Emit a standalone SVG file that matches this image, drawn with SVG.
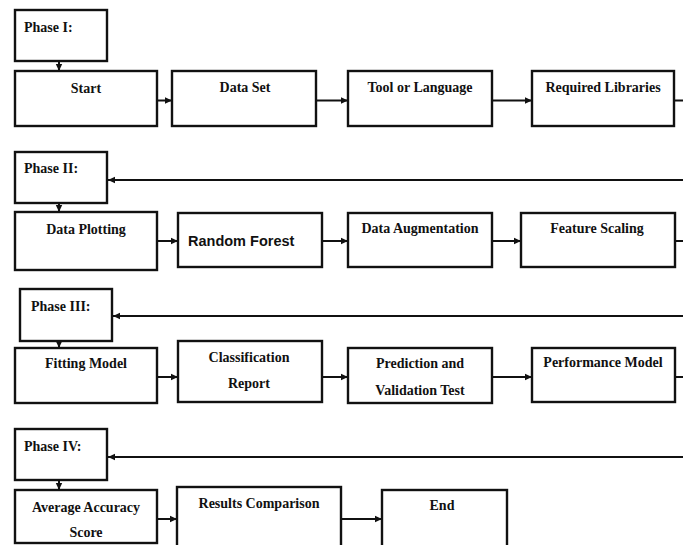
<svg xmlns="http://www.w3.org/2000/svg" width="683" height="545" viewBox="0 0 683 545">
<style>
.box{fill:#fff;stroke:#111;stroke-width:2.4}
.t{font-family:"Liberation Serif","Times New Roman",serif;font-weight:bold;font-size:14px;fill:#111}
.c{text-anchor:middle}
.s{font-family:"Liberation Sans",Arial,sans-serif;font-weight:bold;font-size:14.5px;fill:#111}
.con{fill:none;stroke:#111;stroke-width:2;marker-end:url(#ah)}
</style>
<defs>
<marker id="ah" markerUnits="userSpaceOnUse" markerWidth="8" markerHeight="8" refX="7" refY="4" orient="auto">
<path d="M0,0.8 L7,4 L0,7.2 Z" fill="#111"/>
</marker>
</defs>
<rect width="683" height="545" fill="#fff"/>
<g id="connectors">
<path class="con" d="M59,61 V71"/>
<path class="con" d="M157,100.5 H172"/>
<path class="con" d="M316,100.5 H348"/>
<path class="con" d="M492,100.5 H532"/>
<path class="con" d="M674,100.5 H700 V180 H108"/>
<path class="con" d="M59,203 V212"/>
<path class="con" d="M157,241 H178"/>
<path class="con" d="M322,241 H348"/>
<path class="con" d="M492,241 H521"/>
<path class="con" d="M675,241 H700 V316 H113"/>
<path class="con" d="M59,341 V348"/>
<path class="con" d="M157,377 H178"/>
<path class="con" d="M322,377 H348"/>
<path class="con" d="M492,377 H532"/>
<path class="con" d="M675,377 H700 V457 H108"/>
<path class="con" d="M59,480 V490"/>
<path class="con" d="M157,519 H177"/>
<path class="con" d="M341,519 H382"/>
</g>
<g id="phase1"><rect class="box" x="15" y="10" width="92" height="51"/><text class="t" x="24" y="32">Phase I:</text></g>
<g id="start"><rect class="box" x="15" y="71" width="142" height="55"/><text class="t c" x="86" y="93">Start</text></g>
<g id="dataset"><rect class="box" x="172" y="71" width="144" height="55"/><text class="t c" x="245" y="92">Data Set</text></g>
<g id="tool"><rect class="box" x="348" y="71" width="144" height="55"/><text class="t c" x="420" y="92">Tool or Language</text></g>
<g id="libraries"><rect class="box" x="532" y="71" width="142" height="55"/><text class="t c" x="603" y="92">Required Libraries</text></g>
<g id="phase2"><rect class="box" x="15" y="152" width="92" height="51"/><text class="t" x="24" y="173">Phase II:</text></g>
<g id="plotting"><rect class="box" x="15" y="212" width="142" height="58"/><text class="t c" x="86" y="234">Data Plotting</text></g>
<g id="forest"><rect class="box" x="178" y="213" width="144" height="54"/><text class="s" x="188" y="246">Random Forest</text></g>
<g id="augmentation"><rect class="box" x="348" y="213" width="144" height="54"/><text class="t c" x="420" y="233">Data Augmentation</text></g>
<g id="scaling"><rect class="box" x="521" y="213" width="154" height="54"/><text class="t c" x="597" y="233">Feature Scaling</text></g>
<g id="phase3"><rect class="box" x="20" y="289" width="92" height="52"/><text class="t" x="31" y="311">Phase III:</text></g>
<g id="fitting"><rect class="box" x="15" y="348" width="142" height="55"/><text class="t c" x="86" y="368">Fitting Model</text></g>
<g id="classification"><rect class="box" x="178" y="341" width="144" height="61"/><text class="t c" x="249" y="362">Classification</text><text class="t c" x="249" y="388">Report</text></g>
<g id="prediction"><rect class="box" x="348" y="348" width="144" height="55"/><text class="t c" x="420" y="368">Prediction and</text><text class="t c" x="420" y="395">Validation Test</text></g>
<g id="performance"><rect class="box" x="532" y="348" width="143" height="54"/><text class="t c" x="603" y="367">Performance Model</text></g>
<g id="phase4"><rect class="box" x="15" y="429" width="92" height="51"/><text class="t" x="24" y="451">Phase IV:</text></g>
<g id="average"><rect class="box" x="15" y="490" width="142" height="53"/><text class="t c" x="86" y="512">Average Accuracy</text><text class="t c" x="86" y="537">Score</text></g>
<g id="comparison"><rect class="box" x="177" y="487" width="164" height="70"/><text class="t c" x="259" y="508">Results Comparison</text></g>
<g id="end"><rect class="box" x="382" y="490" width="125" height="70"/><text class="t c" x="442" y="510">End</text></g>
</svg>
